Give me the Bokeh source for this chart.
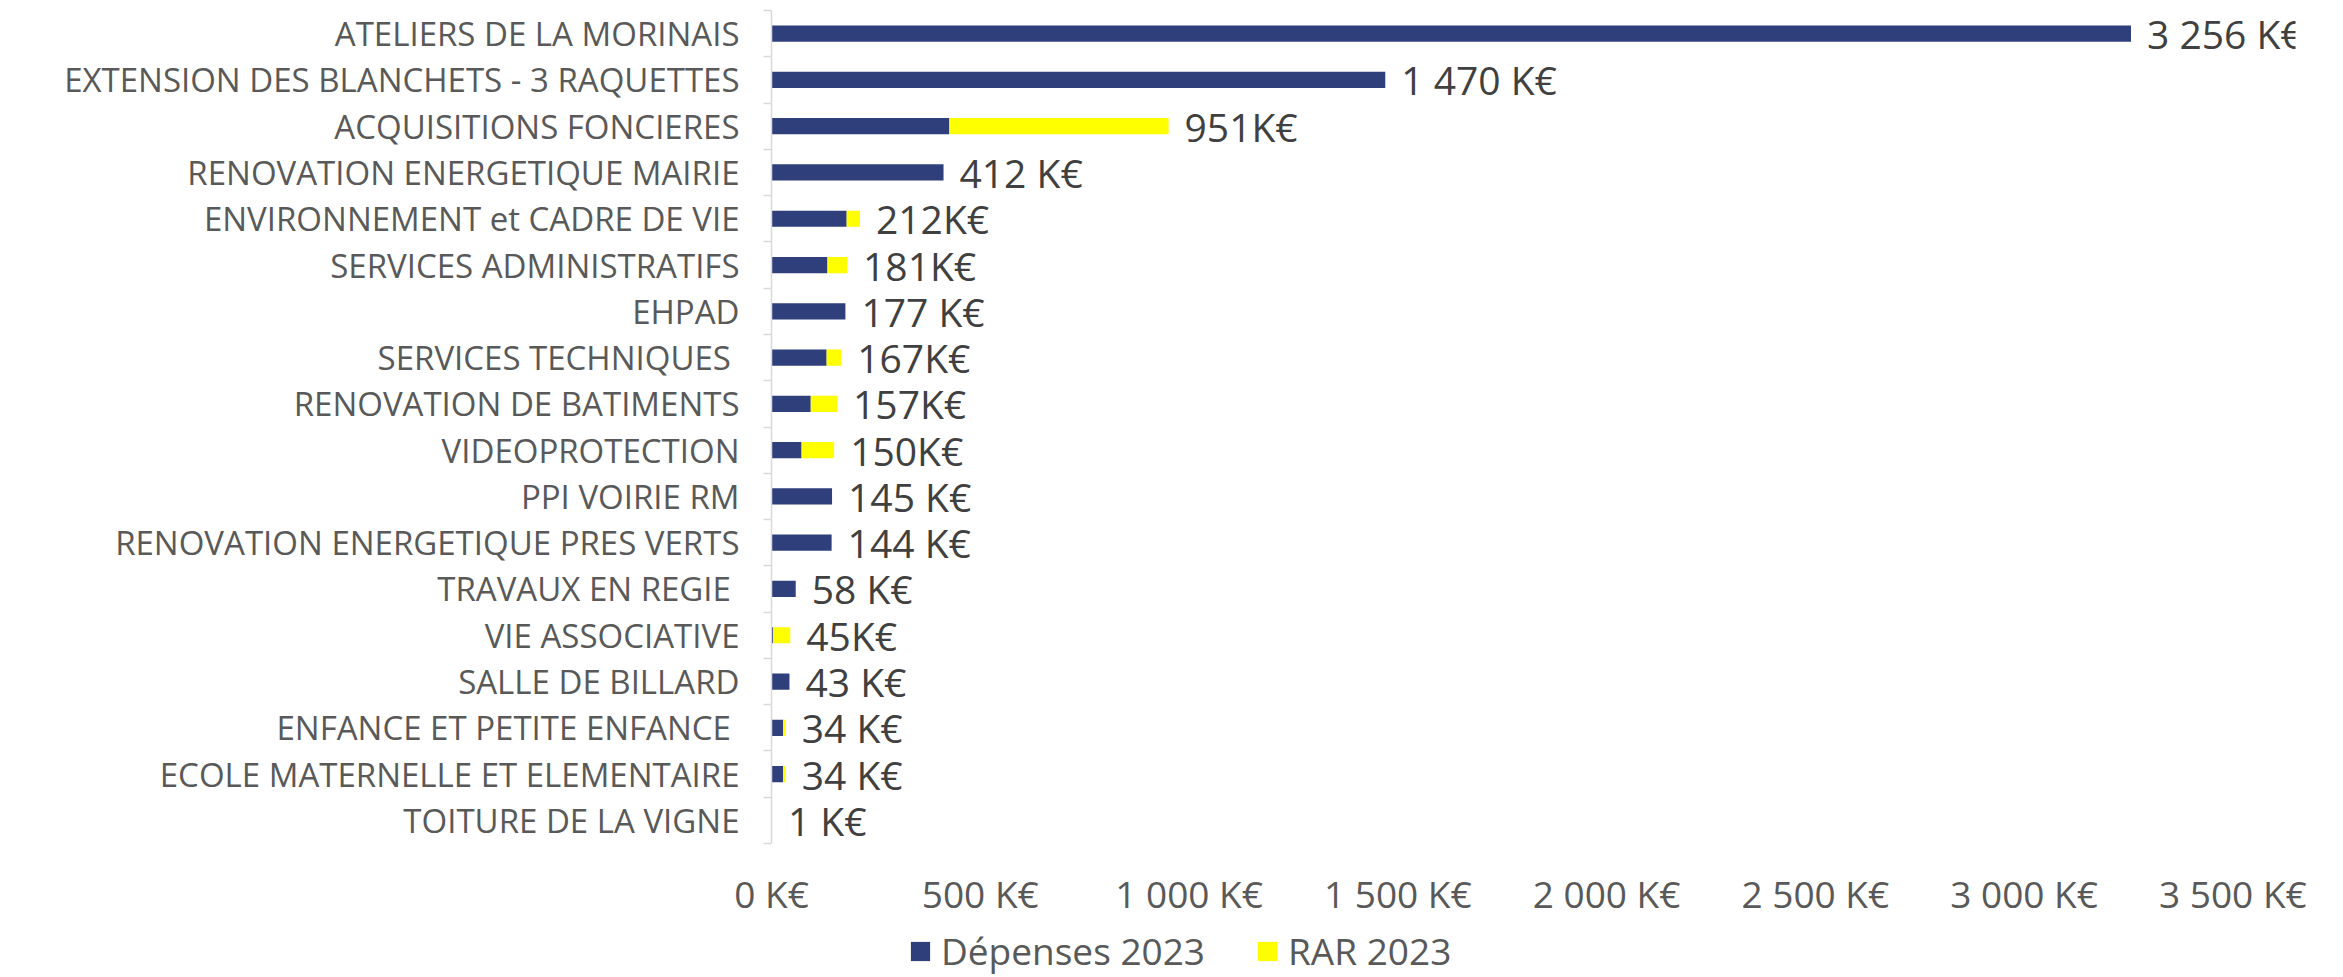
from bokeh.plotting import figure
from bokeh.layouts import column
from bokeh.models import (ColumnDataSource, Range1d, FixedTicker, Legend, LegendItem)
from bokeh.core.properties import value
from bokeh.embed import file_html
from bokeh.resources import INLINE

categories = [
    "ATELIERS DE LA MORINAIS",
    "EXTENSION DES BLANCHETS - 3 RAQUETTES",
    "ACQUISITIONS FONCIERES",
    "RENOVATION ENERGETIQUE MAIRIE",
    "ENVIRONNEMENT et CADRE DE VIE",
    "SERVICES ADMINISTRATIFS",
    "EHPAD",
    "SERVICES TECHNIQUES ",
    "RENOVATION DE BATIMENTS",
    "VIDEOPROTECTION",
    "PPI VOIRIE RM",
    "RENOVATION ENERGETIQUE PRES VERTS",
    "TRAVAUX EN REGIE ",
    "VIE ASSOCIATIVE",
    "SALLE DE BILLARD",
    "ENFANCE ET PETITE ENFANCE ",
    "ECOLE MATERNELLE ET ELEMENTAIRE",
    "TOITURE DE LA VIGNE",
]
depenses_2023 = [3256, 1470, 426, 412, 180, 134, 177, 132, 94, 72, 145, 144, 58, 4, 43, 28, 28, 0]
rar_2023 = [0, 0, 525, 0, 32, 47, 0, 35, 63, 78, 0, 0, 0, 41, 0, 6, 6, 1]
value_labels = ["3 256 K€", "1 470 K€", "951K€", "412 K€", "212K€", "181K€", "177 K€",
                "167K€", "157K€", "150K€", "145 K€", "144 K€", "58 K€", "45K€", "43 K€",
                "34 K€", "34 K€", "1 K€"]
x_ticks = [0, 500, 1000, 1500, 2000, 2500, 3000, 3500]
x_tick_labels = ["0 K€", "500 K€", "1 000 K€", "1 500 K€", "2 000 K€", "2 500 K€", "3 000 K€", "3 500 K€"]
series_names = ["Dépenses 2023", "RAR 2023"]

FONT = "Open Sans"
NAVY = "#2E3F7C"
YELLOW = "#FFFF00"

idx = list(range(len(categories)))
totals = [d + r for d, r in zip(depenses_2023, rar_2023)]
src = ColumnDataSource(dict(y=idx, dep=depenses_2023, rar=rar_2023, total=totals,
                            zero=[0] * len(idx), lab=value_labels))

p = figure(width=2327, height=926, output_backend="svg", toolbar_location=None,
           x_range=Range1d(0, 3650), y_range=Range1d(len(idx) - 0.5, -0.5),
           min_border_left=771, min_border_top=10, min_border_right=32, min_border_bottom=83)
p.outline_line_color = None
p.xgrid.visible = False
p.ygrid.visible = False

r1 = p.hbar(y="y", left="zero", right="dep", height=0.35, source=src,
            fill_color=NAVY, line_color=None)
r2 = p.hbar(y="y", left="dep", right="total", height=0.35, source=src,
            fill_color=YELLOW, line_color=None)
p.text(x="total", y="y", text="lab", source=src, x_offset=16,
       text_baseline="middle", text_align="left",
       text_font=value(FONT), text_font_size="39px", text_color="#404040")

# y axis
ya = p.yaxis[0]
ya.ticker = FixedTicker(ticks=idx, minor_ticks=[i - 0.5 for i in range(len(idx) + 1)])
ya.major_label_overrides = {i: c for i, c in enumerate(categories)}
ya.major_tick_line_color = None
ya.major_tick_out = 0
ya.major_tick_in = 0
ya.minor_tick_in = 0
ya.minor_tick_out = 8
ya.minor_tick_line_color = "#D9D9D9"
ya.minor_tick_line_width = 1.5
ya.axis_line_color = "#D9D9D9"
ya.axis_line_width = 1.5
ya.major_label_standoff = 24
ya.major_label_text_font = FONT
ya.major_label_text_font_size = "33px"
ya.major_label_text_color = "#595959"

# x axis
xa = p.xaxis[0]
xa.ticker = FixedTicker(ticks=x_ticks)
xa.major_label_overrides = {t: l for t, l in zip(x_ticks, x_tick_labels)}
xa.axis_line_color = None
xa.major_tick_line_color = None
xa.minor_tick_line_color = None
xa.major_tick_out = 0
xa.major_label_standoff = 24
xa.major_label_text_font = FONT
xa.major_label_text_font_size = "37px"
xa.major_label_text_color = "#595959"

# legend strip below the chart (its frame is aligned with the chart frame)
pl = figure(width=2327, height=50, output_backend="svg", toolbar_location=None,
            x_range=Range1d(0, 1), y_range=Range1d(0, 1),
            x_axis_location=None, y_axis_location=None,
            min_border_left=0, min_border_right=0, min_border_top=0, min_border_bottom=0)
pl.outline_line_color = None
pl.xgrid.visible = False
pl.ygrid.visible = False
lr1 = pl.hbar(y=[-5], left=[0], right=[1], height=0.5, fill_color=NAVY, line_color=None)
lr2 = pl.hbar(y=[-5], left=[0], right=[1], height=0.5, fill_color=YELLOW, line_color=None)
legend = Legend(items=[LegendItem(label=series_names[0], renderers=[lr1]),
                       LegendItem(label=series_names[1], renderers=[lr2])],
                orientation="horizontal", location=(137, 0),
                label_text_font=FONT, label_text_font_size="37px",
                label_text_color="#595959", glyph_width=24, glyph_height=24,
                label_standoff=9, spacing=50, border_line_color=None,
                background_fill_alpha=0, padding=2, margin=0)
pl.add_layout(legend, "center")

layout = column(p, pl, spacing=0)
open("out.html", "w").write(file_html(layout, INLINE))
